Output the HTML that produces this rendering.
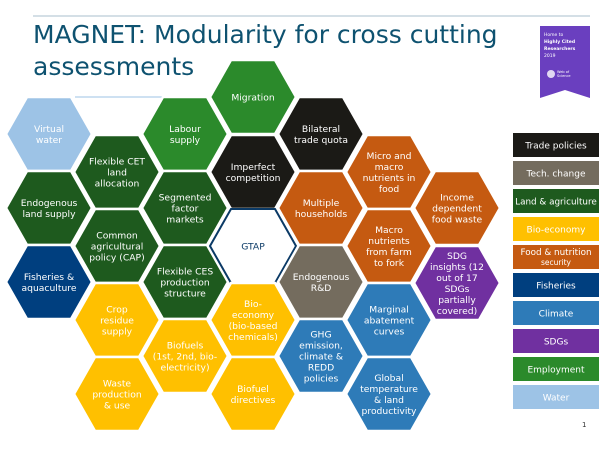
<!DOCTYPE html>
<html><head><meta charset="utf-8"><style>
body{margin:0;background:#fff;}
svg{display:block;font-family:"DejaVu Sans","Liberation Sans",sans-serif;}
</style></head><body>
<svg id="s" width="600" height="450" viewBox="0 0 600 450">
<line x1="33" y1="16" x2="590" y2="16" stroke="#a9bfcc" stroke-width="1"/>
<text x="33" y="43" font-family="'DejaVu Sans',sans-serif" font-size="25" fill="#0e5270">MAGNET: Modularity for cross cutting</text>
<text x="33" y="75" font-family="'DejaVu Sans',sans-serif" font-size="25" fill="#0e5270">assessments</text>
<g>
<polygon points="540,26 590,26 590,98 565,90 540,98" fill="#6a3fbf"/>
<text x="544" y="36" font-size="4.5" fill="#fff">Home to</text>
<text x="544" y="43" font-size="4.5" font-weight="bold" fill="#fff">Highly Cited</text>
<text x="544" y="50" font-size="4.5" font-weight="bold" fill="#fff">Researchers</text>
<text x="544" y="57" font-size="4.5" fill="#fff">2019</text>
<circle cx="551" cy="74" r="4" fill="#fff" opacity="0.8"/>
<text x="557" y="73" font-size="3.5" fill="#fff">Web of</text>
<text x="557" y="77" font-size="3.5" fill="#fff">Science</text>
</g>
<line x1="75" y1="97" x2="165" y2="97" stroke="#9dc3e6" stroke-width="1"/>
<g id="hexes"></g>
<g id="legend"></g>
<text x="582" y="427" font-size="7" fill="#333">1</text>
</svg>
<script>
const C={trade:"#1b1a16",tech:"#746c5e",land:"#1e5a1e",bio:"#ffc000",food:"#c55a11",fish:"#003f7f",clim:"#2e7bb8",sdg:"#7030a0",emp:"#2b8a2b",water:"#9dc3e6",gtap:"#fff"};
const hexes=[
[49,134,"water",["Virtual","water"]],
[49,208,"land",["Endogenous","land supply"]],
[49,282,"fish",["Fisheries &","aquaculture"]],
[117,172,"land",["Flexible CET","land","allocation"]],
[117,246,"land",["Common","agricultural","policy (CAP)"]],
[117,320,"bio",["Crop","residue","supply"]],
[117,394,"bio",["Waste","production","& use"]],
[185,134,"emp",["Labour","supply"]],
[185,208,"land",["Segmented","factor","markets"]],
[185,282,"land",["Flexible CES","production","structure"]],
[185,356,"bio",["Biofuels","(1st, 2nd, bio-","electricity)"]],
[253,97,"emp",["Migration"]],
[253,172,"trade",["Imperfect","competition"]],
[253,246,"gtap",["GTAP"]],
[253,320,"bio",["Bio-","economy","(bio-based","chemicals)"]],
[253,394,"bio",["Biofuel","directives"]],
[321,134,"trade",["Bilateral","trade quota"]],
[321,208,"food",["Multiple","households"]],
[321,282,"tech",["Endogenous","R&D"]],
[321,356,"clim",["GHG","emission,","climate &","REDD","policies"]],
[389,172,"food",["Micro and","macro","nutrients in","food"]],
[389,246,"food",["Macro","nutrients","from farm","to fork"]],
[389,320,"clim",["Marginal","abatement","curves"]],
[389,394,"clim",["Global","temperature","& land","productivity"]],
[457,208,"food",["Income","dependent","food waste"]],
[457,283,"sdg",["SDG","insights (12","out of 17","SDGs","partially","covered)"]]
];
const legendLabels=[["Trade policies"],["Tech. change"],["Land & agriculture"],["Bio-economy"],["Food & nutrition","security"],["Fisheries"],["Climate"],["SDGs"],["Employment"],["Water"]];
const legendKeys=["trade","tech","land","bio","food","fish","clim","sdg","emp","water"];
const NS="http://www.w3.org/2000/svg";
const hg=document.getElementById("hexes");
hexes.forEach(h=>{
 const [cx,cy,k,lines]=h;const w=43,hw=22,hh=37;
 const g=document.createElementNS(NS,"g");
 
 
 const p=document.createElementNS(NS,"polygon");
 p.setAttribute("points",[[cx-w,cy],[cx-hw,cy-hh],[cx+hw,cy-hh],[cx+w,cy],[cx+hw,cy+hh],[cx-hw,cy+hh]].map(a=>a.join(",")).join(" "));
 p.setAttribute("fill",C[k]);
 p.setAttribute("stroke",k==="gtap"?"#0b3a66":"#fff");
 p.setAttribute("stroke-width",k==="gtap"?"2":"2.5");
 g.appendChild(p);
 const lh=11,y0=cy-(lines.length-1)*lh/2+3.5;
 lines.forEach((t,i)=>{const tx=document.createElementNS(NS,"text");
  tx.setAttribute("x",cx);tx.setAttribute("y",y0+i*lh);tx.setAttribute("text-anchor","middle");
  tx.setAttribute("font-size","9.2");tx.setAttribute("fill",k==="gtap"?"#0b3a66":"#fff");tx.textContent=t;g.appendChild(tx);});
 hg.appendChild(g);
});
const lg=document.getElementById("legend");
legendLabels.forEach((lab,i)=>{
 const y=133+i*28;
 const g=document.createElementNS(NS,"g");
 
 
 const r=document.createElementNS(NS,"rect");
 r.setAttribute("x",513);r.setAttribute("y",y);r.setAttribute("width",86);r.setAttribute("height",24);r.setAttribute("fill",C[legendKeys[i]]);
 g.appendChild(r);
 lab.forEach((t,j)=>{const tx=document.createElementNS(NS,"text");
  const two=lab.length>1;
  tx.setAttribute("x",556);tx.setAttribute("y",two?(y+10+j*10):(y+15.5));tx.setAttribute("text-anchor","middle");
  tx.setAttribute("font-size",two&&j==1?"7.5":(t.length>15?"8.8":"9"));tx.setAttribute("fill","#fff");tx.textContent=t;g.appendChild(tx);});
 lg.appendChild(g);
});
</script>
</body></html>
